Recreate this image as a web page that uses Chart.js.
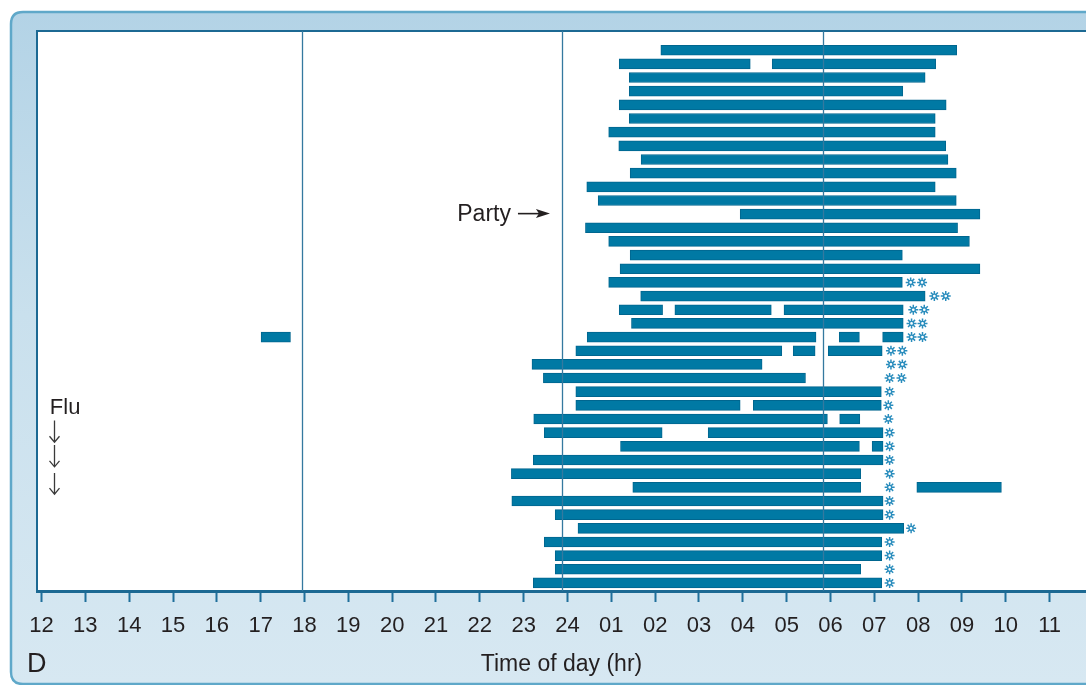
<!DOCTYPE html>
<html>
<head>
<meta charset="utf-8">
<title>Time of day (hr)</title>
<script src="https://cdn.jsdelivr.net/npm/chart.js@4/dist/chart.umd.min.js"></script>
<style>
  html, body { margin: 0; padding: 0; background: #ffffff; overflow: hidden; }
  #wrap { position: relative; width: 1086px; height: 685px; }
  canvas { display: block; }
</style>
</head>
<body>
<div id="wrap"><canvas id="chart" width="1086" height="685"></canvas></div>
<script>
// Hours run from noon (12) to 11 the next morning (35 = 11:00 next day).
const hourTicks = [12, 13, 14, 15, 16, 17, 18, 19, 20, 21, 22, 23, 24, 25, 26, 27, 28, 29, 30, 31, 32, 33, 34, 35];
const tickLabels = ['12', '13', '14', '15', '16', '17', '18', '19', '20', '21', '22', '23', '24',
                    '01', '02', '03', '04', '05', '06', '07', '08', '09', '10', '11'];

// Sleep episodes, one entry per night (top to bottom): onset and offset hours.
const sleepOn = [
  [26.13], [25.18, 28.67], [25.41], [25.41], [25.18], [25.41], [24.94], [25.17], [25.68], [25.43],
  [24.44], [24.70], [27.94], [24.41], [24.94], [25.43], [25.20], [24.94], [25.67], [25.18, 26.45, 28.94],
  [25.46], [17.01, 24.45, 30.20, 31.19], [24.19, 29.15, 29.95], [23.19], [23.45], [24.19], [24.19, 28.24], [23.23, 30.21], [23.47, 27.21], [25.21, 30.95],
  [23.22], [22.72], [25.49, 31.97], [22.73], [23.72], [24.24], [23.47], [23.72], [23.72], [23.22]
];
const sleepOff = [
  [32.88], [28.17, 32.40], [32.16], [31.65], [32.64], [32.39], [32.39], [32.63], [32.68], [32.87],
  [32.39], [32.87], [33.41], [32.90], [33.17], [31.64], [33.41], [31.64], [32.16], [26.17, 28.65, 31.66],
  [31.66], [17.68, 29.67, 30.66, 31.66], [28.89, 29.65, 31.18], [28.44], [29.43], [31.16], [27.94, 31.16], [29.93, 30.67], [26.16, 31.20], [30.66, 31.20],
  [31.20], [30.69], [30.69, 33.90], [31.20], [31.20], [31.67], [31.17], [31.17], [30.69], [31.17]
];
// Asterisk marks after waking, per night.
const wakeMarks = [
  [], [], [], [], [], [], [], [], [], [],
  [], [], [], [], [], [], [], [31.83, 32.09], [32.37, 32.63], [31.89, 32.14],
  [31.85, 32.10], [31.85, 32.10], [31.38, 31.64], [31.38, 31.64], [31.35, 31.62], [31.35], [31.32], [31.32], [31.35], [31.35],
  [31.35], [31.35], [31.35], [31.35], [31.35], [31.84], [31.35], [31.35], [31.35], [31.35]
];
// Reference lines near 18:00, 24:00 and 06:00.
const guideHours = [17.94, 23.87, 29.83];

const FONT = "'Liberation Sans', Arial, Helvetica, sans-serif";
const INK = '#231f20';
const BAR = '#0079a4';
const BAR_EDGE = '#00668f';
const FRAME = '#1c6993';

const barData = [];
sleepOn.forEach((ons, r) => {
  ons.forEach((on, k) => barData.push({ y: r + 1, x: [on, sleepOff[r][k]] }));
});
const markData = [];
wakeMarks.forEach((hrs, r) => hrs.forEach(h => markData.push({ x: h, y: r + 1 })));

const panelPlugin = {
  id: 'panel',
  beforeDraw(chart) {
    const { ctx, chartArea: a, width, height } = chart;
    ctx.save();
    ctx.fillStyle = '#ffffff';
    ctx.fillRect(0, 0, width, height);
    // rounded light-blue panel
    const px = 11, py = 12, pw = width + 40, ph = height - 13, rad = 12;
    const g = ctx.createLinearGradient(0, py, 0, py + ph);
    g.addColorStop(0, '#b3d3e6');
    g.addColorStop(0.45, '#c9e0ed');
    g.addColorStop(1, '#d7e8f2');
    ctx.beginPath();
    ctx.moveTo(px + rad, py);
    ctx.lineTo(px + pw - rad, py);
    ctx.quadraticCurveTo(px + pw, py, px + pw, py + rad);
    ctx.lineTo(px + pw, py + ph - rad);
    ctx.quadraticCurveTo(px + pw, py + ph, px + pw - rad, py + ph);
    ctx.lineTo(px + rad, py + ph);
    ctx.quadraticCurveTo(px, py + ph, px, py + ph - rad);
    ctx.lineTo(px, py + rad);
    ctx.quadraticCurveTo(px, py, px + rad, py);
    ctx.closePath();
    ctx.fillStyle = g;
    ctx.fill();
    ctx.lineWidth = 2.5;
    ctx.strokeStyle = '#5fa8c9';
    ctx.stroke();
    // white plot area with dark frame on left and top
    ctx.fillStyle = '#ffffff';
    ctx.fillRect(a.left, a.top, a.right - a.left + 2, a.bottom - a.top);
    ctx.strokeStyle = FRAME;
    ctx.lineWidth = 2;
    ctx.beginPath();
    ctx.moveTo(a.left, a.bottom);
    ctx.lineTo(a.left, a.top);
    ctx.lineTo(a.right + 2, a.top);
    ctx.stroke();
    ctx.restore();
  },
  afterDatasetsDraw(chart) {
    const { ctx, chartArea: a, scales: { x, y } } = chart;
    ctx.save();
    // guide lines
    ctx.strokeStyle = '#34799f';
    ctx.lineWidth = 1.3;
    guideHours.forEach(h => {
      const gx = Math.round(x.getPixelForValue(h)) + 0.5;
      ctx.beginPath();
      ctx.moveTo(gx, a.top);
      ctx.lineTo(gx, a.bottom);
      ctx.stroke();
    });
    // annotations
    ctx.fillStyle = INK;
    ctx.strokeStyle = INK;
    ctx.font = '23px ' + FONT;
    ctx.textBaseline = 'alphabetic';
    // "Party" with arrow pointing at night 13
    const partyY = y.getPixelForValue(13);
    ctx.textAlign = 'right';
    ctx.fillText('Party', x.getPixelForValue(22.71), partyY + 7);
    const ax0 = x.getPixelForValue(22.87), ax1 = x.getPixelForValue(23.60);
    ctx.lineWidth = 1.6;
    ctx.beginPath();
    ctx.moveTo(ax0, partyY - 0.5);
    ctx.lineTo(ax1 - 10, partyY - 0.5);
    ctx.stroke();
    ctx.beginPath();
    ctx.moveTo(ax1, partyY - 0.5);
    ctx.lineTo(ax1 - 14, partyY - 5);
    ctx.lineTo(ax1 - 11, partyY - 0.5);
    ctx.lineTo(ax1 - 14, partyY + 4);
    ctx.closePath();
    ctx.fill();
    // "Flu" with three down arrows
    ctx.font = '22px ' + FONT;
    ctx.textAlign = 'left';
    ctx.fillText('Flu', x.getPixelForValue(12.19), y.getPixelForValue(27.6));
    const fx = Math.round(x.getPixelForValue(12.29)) + 0.5;
    ctx.lineWidth = 1.3;
    ctx.strokeStyle = '#3a3a3a';
    [[28.1, 29.7], [29.9, 31.5], [31.95, 33.5]].forEach(([r0, r1]) => {
      const y0 = y.getPixelForValue(r0), y1 = y.getPixelForValue(r1);
      ctx.beginPath();
      ctx.moveTo(fx, y0);
      ctx.lineTo(fx, y1);
      ctx.moveTo(fx - 5, y1 - 6);
      ctx.lineTo(fx, y1);
      ctx.lineTo(fx + 5, y1 - 6);
      ctx.stroke();
    });
    // panel letter
    ctx.font = '27px ' + FONT;
    ctx.fillText('D', 27, 672);
    ctx.restore();
  }
};

new Chart(document.getElementById('chart'), {
  type: 'bar',
  data: {
    datasets: [
      {
        type: 'scatter',
        data: markData,
        pointStyle: 'star',
        radius: 5,
        borderColor: '#2a8dbd',
        backgroundColor: '#ffffff',
        borderWidth: 1.5,
        order: 0
      },
      {
        type: 'scatter',
        data: markData,
        pointStyle: 'circle',
        radius: 2,
        borderColor: '#2a8dbd',
        backgroundColor: '#ffffff',
        borderWidth: 1.3,
        order: -1
      },
      {
        type: 'bar',
        indexAxis: 'y',
        data: barData,
        backgroundColor: BAR,
        borderColor: BAR_EDGE,
        borderWidth: 1,
        borderSkipped: false,
        barThickness: 10,
        order: 1
      }
    ]
  },
  options: {
    indexAxis: 'y',
    responsive: false,
    animation: false,
    devicePixelRatio: 1,
    layout: { autoPadding: false, padding: { left: 37, top: 31, right: 0, bottom: 0 } },
    plugins: { legend: { display: false }, tooltip: { enabled: false } },
    scales: {
      x: {
        type: 'linear',
        position: 'bottom',
        offset: false,
        min: 11.897,
        max: 35.83,
        afterBuildTicks(scale) { scale.ticks = hourTicks.map(v => ({ value: v })); },
        afterFit(scale) { scale.height = 94; },
        ticks: {
          autoSkip: false,
          maxRotation: 0,
          padding: 11,
          color: INK,
          font: { family: FONT, size: 22 },
          callback: (v) => tickLabels[hourTicks.indexOf(v)]
        },
        grid: {
          offset: false,
          drawOnChartArea: false,
          drawTicks: true,
          tickLength: 11,
          tickWidth: 2,
          tickColor: '#1f6f9b'
        },
        border: { display: true, color: FRAME, width: 3 },
        title: {
          display: true,
          text: 'Time of day (hr)',
          color: INK,
          font: { family: FONT, size: 23 },
          padding: { top: 0, bottom: 7 }
        }
      },
      y: {
        type: 'linear',
        display: false,
        reverse: true,
        offset: false,
        grid: { offset: false },
        min: -0.406,
        max: 40.59
      }
    }
  },
  plugins: [panelPlugin]
});
</script>
</body>
</html>
